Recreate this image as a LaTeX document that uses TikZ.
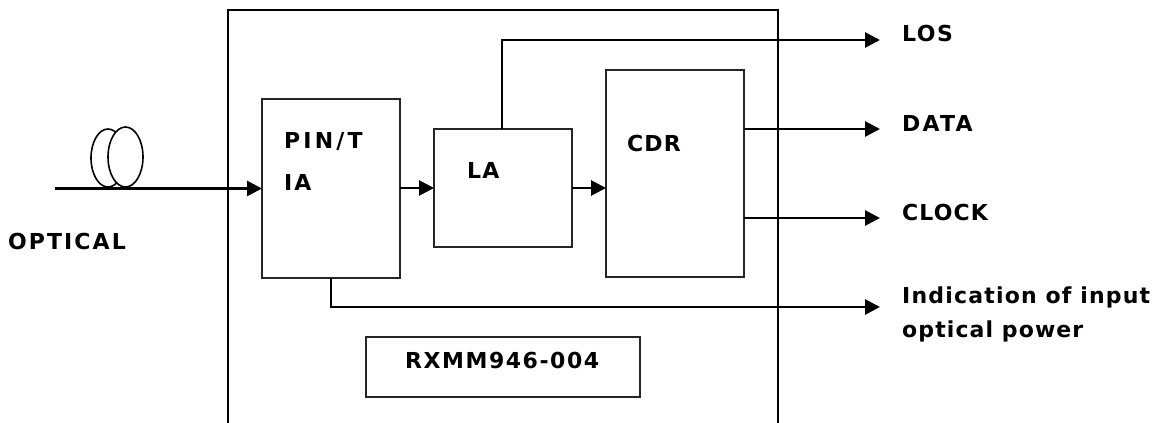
\documentclass[tikz,border=0pt]{standalone}
\usepackage{fontspec}
\usetikzlibrary{arrows.meta,shapes.geometric}
\setmainfont{DejaVu Sans}[BoldFont={DejaVu Sans Bold}]
\newfontfamily\lblfont{DejaVu Sans Bold}
\newcommand{\spc}[2]{{\addfontfeature{LetterSpace=#1}#2}}
\begin{document}
\begin{tikzpicture}[x=1pt,y=-1pt,
  box/.style={draw=black!85,line width=2pt,fill=white,inner sep=0,outer sep=0,rectangle,anchor=north west},
  sig/.style={draw=black,line width=2.8pt,-{Triangle[length=15pt,width=15pt]}},
  lbl/.style={anchor=base west,inner sep=0,font=\fontsize{22}{26}\selectfont\lblfont,text=black},
  coil/.style={draw=black,line width=1.6pt,fill=white}]
\useasboundingbox (0,0) rectangle (1157,423);
\fill[white] (0,0) rectangle (1157,423);
\coordinate (ob1) at (228,423);
\coordinate (ot1) at (228,10);
\coordinate (ot2) at (778,10);
\coordinate (ob2) at (778,423);
\draw[black,line width=2pt] (ob1) -- (ot1) -- (ot2) -- (ob2);
% fibre coil
\node[coil,ellipse,minimum width=34pt,minimum height=58pt,inner sep=0] (coilA) at (108,158) {};
\node[coil,ellipse,minimum width=35pt,minimum height=60pt,inner sep=0] (coilB) at (125.5,157) {};
% blocks
\node[box,minimum width=138pt,minimum height=179pt] (pin) at (262,99) {};
\node[box,minimum width=138pt,minimum height=118pt] (la) at (434,129) {};
\node[box,minimum width=138pt,minimum height=207pt] (cdr) at (606,70) {};
\node[box,minimum width=274pt,minimum height=60pt] (part) at (366,337) {};
% free ends
\coordinate (fibre) at (55,188.5);
\coordinate (losT) at (880,40);
\coordinate (dataT) at (880,129);
\coordinate (clockT) at (880,218);
\coordinate (indT) at (880,307);
\coordinate (losS) at (502,129);
\coordinate (indS) at (331,278);
\coordinate (dataS) at (744,129);
\coordinate (clockS) at (744,218);
% connectors
\draw[sig] (fibre) -- (fibre -| pin.west);
\draw[sig] (pin.east |- la.east) -- (la.west);
\draw[sig] (la.east) -- (la.east -| cdr.west);
\draw[sig] (losS) -- (losS |- losT) -- (losT);
\draw[sig] (dataS) -- (dataT);
\draw[sig] (clockS) -- (clockT);
\draw[sig] (indS) -- (indS |- indT) -- (indT);
% labels
\node[lbl] (tPin) at (284,148) {\spc{14.5}{PIN/T}};
\node[lbl] (tIa) at (284,190) {\spc{9}{IA}};
\node[lbl] (tLa) at (467,178) {\spc{5}{LA}};
\node[lbl] (tCdr) at (627,151) {\spc{5}{CDR}};
\node[lbl] (tPart) at (405,368) {\spc{7}{RXMM946-004}};
\node[lbl] (tOpt) at (8,249) {\spc{9.4}{OPTICAL}};
\node[lbl] (tLos) at (902,41) {\spc{7}{LOS}};
\node[lbl] (tData) at (902,131) {\spc{10}{DATA}};
\node[lbl] (tClock) at (902,220) {\spc{5}{CLOCK}};
\node[lbl] (tInd) at (902,303) {\spc{5.4}{Indication of input}};
\node[lbl] (tPow) at (902,337) {\spc{5}{optical power}};
\end{tikzpicture}
\end{document}
